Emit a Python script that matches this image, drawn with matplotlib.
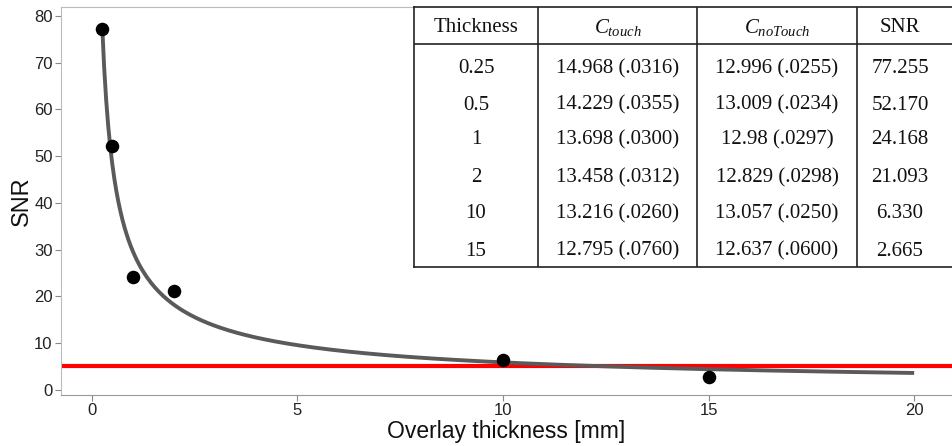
import numpy as np
import matplotlib
matplotlib.use("Agg")
import matplotlib.pyplot as plt

# ---- data ----
thickness = [0.25, 0.5, 1, 2, 10, 15]
snr = [77.255, 52.170, 24.168, 21.093, 6.330, 2.665]
threshold = 5

thickness_labels = ["0.25", "0.5", "1", "2", "10", "15"]
ctouch_cells = ["14.968 (.0316)", "14.229 (.0355)", "13.698 (.0300)",
                "13.458 (.0312)", "13.216 (.0260)", "12.795 (.0760)"]
cnotouch_cells = ["12.996 (.0255)", "13.009 (.0234)", "12.98 (.0297)",
                  "12.829 (.0298)", "13.057 (.0250)", "12.637 (.0600)"]
snr_labels = ["77.255", "52.170", "24.168", "21.093", "6.330", "2.665"]
headers = ["Thickness", r"$C_{touch}$", r"$C_{noTouch}$", "SNR"]

xticks = [0, 5, 10, 15, 20]
yticks = [0, 10, 20, 30, 40, 50, 60, 70, 80]

# ---- power-law fit y = a * x^b (least squares) ----
xs = np.array(thickness, float)
ys = np.array(snr, float)
best = None
for b in np.linspace(-1.5, -0.2, 2601):
    f = xs ** b
    a = np.sum(ys * f) / np.sum(f * f)
    err = np.sum((ys - a * f) ** 2)
    if best is None or err < best[0]:
        best = (err, a, b)
_, fa, fb = best
xfit = np.linspace(0.25, 20, 400)
yfit = fa * xfit ** fb

plt.rcParams['font.family'] = ['Liberation Sans', 'DejaVu Sans']
plt.rcParams['mathtext.fontset'] = 'custom'
plt.rcParams['mathtext.rm'] = 'Liberation Serif'
plt.rcParams['mathtext.it'] = 'Liberation Serif:italic'

W, H = 952, 446
fig = plt.figure(figsize=(W / 100, H / 100), dpi=100)

def fx(px):
    return px / W

def fy(py):
    return 1 - py / H

ax = fig.add_axes([fx(61), fy(395), fx(952) - fx(61), fy(7) - fy(395)])
ax.set_xlim(-0.75, 20.92)
ax.set_ylim(-1.1, 81.9)

ax.axhline(threshold, color='#ff0000', lw=3.0, zorder=2)
ax.plot(xfit, yfit, color='#5a5a5a', lw=2.8, zorder=3, solid_capstyle='butt')
ax.scatter(thickness, snr, s=95, color='black', zorder=4, linewidths=0)

ax.set_xticks(xticks)
ax.set_yticks(yticks)
ax.tick_params(axis='both', colors='#888888', labelcolor='#222222',
               labelsize=12, length=4, width=0.8, direction='out', pad=2)
for side in ['left', 'bottom', 'top']:
    ax.spines[side].set_color('#bbbbbb')
    ax.spines[side].set_linewidth(0.8)
ax.spines['bottom'].set_color('#999999')
ax.spines['right'].set_visible(False)
ax.set_xlabel("Overlay thickness [mm]", fontsize=16.5, color='#111111', labelpad=1)
ax.set_ylabel("SNR", fontsize=17, color='#111111', labelpad=1)

# ---- table inset ----
tx0, tx1 = 414, 965
ty0, ty1 = 7.3, 266.7
tab = fig.add_axes([fx(tx0), fy(ty1), fx(tx1) - fx(tx0), fy(ty0) - fy(ty1)])
tab.set_xlim(tx0, tx1)
tab.set_ylim(ty1, ty0)
tab.set_xticks([])
tab.set_yticks([])
tab.set_facecolor('white')
for s in tab.spines.values():
    s.set_color('#222222')
    s.set_linewidth(1.2)

col_lines = [538.3, 697.3, 856.7]
for cx in col_lines:
    tab.plot([cx, cx], [ty0, ty1], color='#222222', lw=1.2)
tab.plot([tx0, tx1], [44.3, 44.3], color='#222222', lw=1.2)

col_centers = [476, 617.5, 777, 900]
header_y = 28
row_ys = [68.5, 105, 140, 177.5, 214, 251]
tfont = dict(family='Liberation Serif', fontsize=15, color='#111111',
             ha='center', va='center')
for cx, h in zip(col_centers, headers):
    tab.text(cx, header_y, h, **tfont)
for i, ry in enumerate(row_ys):
    cells = [thickness_labels[i], ctouch_cells[i], cnotouch_cells[i], snr_labels[i]]
    for cx, c in zip(col_centers, cells):
        tab.text(cx, ry, c, **tfont)

fig.savefig("out.png", dpi=100)
